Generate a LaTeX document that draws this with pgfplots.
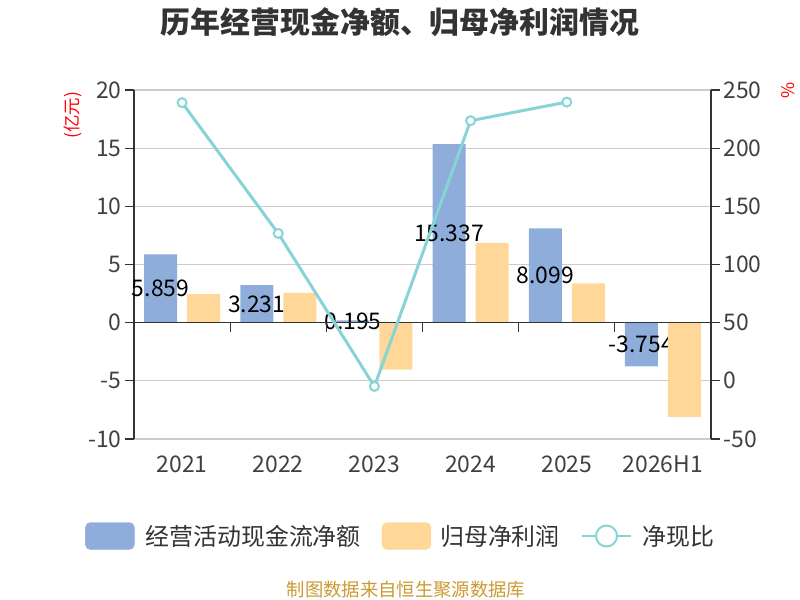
\documentclass[border=0pt]{standalone}
\usepackage{fontspec}
\setmainfont{Noto Sans CJK SC}
\usepackage{pgfplots}
\usepackage{pgfplotstable}
\pgfplotsset{compat=1.18}
\definecolor{cfblue}{HTML}{8EADDB}
\definecolor{npor}{HTML}{FFD899}
\definecolor{ratioc}{HTML}{86D4D6}
\definecolor{gridc}{HTML}{CCCCCC}
\definecolor{axc}{HTML}{333333}
\definecolor{tickc}{HTML}{404040}
\definecolor{srcc}{HTML}{CC9933}
\pgfplotstableread{
x cf lab np
0 5.859 5.859 2.45
1 3.231 3.231 2.55
2 0.195 0.195 -4.04
3 15.337 15.337 6.86
4 8.099 8.099 3.38
5 -3.754 -3.754 -8.10
}\datatable
\pgfplotstableread{
x r
0 239.1
1 126.7
2 -4.8
3 223.6
4 239.6
}\ratiotable
\newcommand{\fs}[1]{\fontsize{#1}{#1}\selectfont}
\pgfplotsset{
  base/.style={at={(134bp,161bp)}, anchor=south west, scale only axis,
    width=577bp, height=349bp, clip=false, xmin=-0.5, xmax=5.5},
}
\begin{document}
\begin{tikzpicture}[x=1bp,y=1bp]
\path[use as bounding box] (0,0) rectangle (800,600);
\node[font=\fs{30}\bfseries, text=axc] at (400,578) {历年经营现金净额、归母净利润情况};
\node[font=\fs{18.4}, text=srcc] at (406,10) {制图数据来自恒生聚源数据库};
% left axis: grid, blue bars and their labels
\begin{axis}[
  base, ymin=-10, ymax=20,
  axis lines*=left,
  x axis line style={draw=none},
  y axis line style={axc, line width=1.3bp},
  xtick={0,...,5}, xticklabels={2021,2022,2023,2024,2025,2026H1},
  xtick style={draw=none},
  xticklabel style={yshift=-4bp},
  ytick={-10,-5,0,5,10,15,20}, yticklabels={-10,-5,0,5,10,15,20},
  ytick style={axc, line width=1.3bp},
  tick align=outside, major tick length=9bp,
  ymajorgrids, grid style={gridc, line width=1.3bp},
  ticklabel style={font=\fs{23}, text=tickc},
  ylabel={(亿元)},
  every axis y label/.style={at={(axis description cs:-0.106,0.928)}, rotate=90, anchor=center, font=\fs{17.5}, text=red},
]
\addplot[ybar, bar width=33bp, bar shift=-21.5bp, fill=cfblue, draw=none] table[x=x, y=cf] {\datatable};
\addplot[draw=none, mark=none,
  point meta=explicit symbolic, nodes near coords={\pgfplotspointmeta},
  every node near coord/.style={anchor=center, font=\fs{23}, text=black}]
  table[x expr=\thisrow{x}-0.2236, y expr=\thisrow{cf}/2, meta=lab] {\datatable};
\end{axis}
% same left scale: orange bars, drawn over the labels, and the zero line
\begin{axis}[
  base, ymin=-10, ymax=20, axis lines=none, ticks=none,
]
\addplot[ybar, bar width=33bp, bar shift=21.5bp, fill=npor, draw=none] table[x=x, y=np] {\datatable};
\draw[axc, line width=1.3bp] (axis cs:-0.5,0) -- (axis cs:5.5,0);
\pgfplotsinvokeforeach{0.5,1.5,2.5,3.5,4.5}{\draw[axc, line width=1.3bp] (axis cs:#1,0) -- ([yshift=-9bp]axis cs:#1,0);}
\end{axis}
% right axis: ratio line and legend
\begin{axis}[
  base, ymin=-50, ymax=250,
  axis y line*=right, axis x line=none,
  y axis line style={axc, line width=1.3bp},
  ytick={-50,0,50,100,150,200,250}, yticklabels={-50,0,50,100,150,200,250},
  ytick style={axc, line width=1.3bp},
  tick align=outside, major tick length=9bp,
  ticklabel style={font=\fs{23}, text=tickc},
  ylabel={\%},
  every axis y label/.style={at={(axis description cs:1.133,1.0)}, rotate=90, anchor=center, font=\fs{17.5}, text=red},
  legend columns=3,
  legend style={draw=none, fill=none, at={(axis description cs:-0.0901,-0.278)}, anchor=west,
    font=\fs{24}, text=axc, nodes={inner sep=0pt}, column sep=0pt},
]
\addlegendimage{legend image code/.code={\fill[cfblue, rounded corners=5bp] (0bp,-13.5bp) rectangle (49bp,13.5bp); \path (60bp,0);}}
\addlegendentry{经营活动现金流净额\rule{21bp}{0pt}}
\addlegendimage{legend image code/.code={\fill[npor, rounded corners=5bp] (0bp,-13.5bp) rectangle (49bp,13.5bp); \path (58bp,0);}}
\addlegendentry{归母净利润\rule{21bp}{0pt}}
\addplot[ratioc, line width=3bp, mark=*, mark size=4.5bp, mark options={fill=white, draw=ratioc, line width=2bp},
  legend image code/.code={\draw[ratioc, line width=2.5bp] (0bp,0bp) -- (49bp,0bp); \draw[ratioc, fill=white, line width=2bp] (24.5bp,0bp) circle (10.5bp); \path (59bp,0);}]
  table[x=x, y=r] {\ratiotable};
\addlegendentry{净现比}
\end{axis}
\end{tikzpicture}
\end{document}
